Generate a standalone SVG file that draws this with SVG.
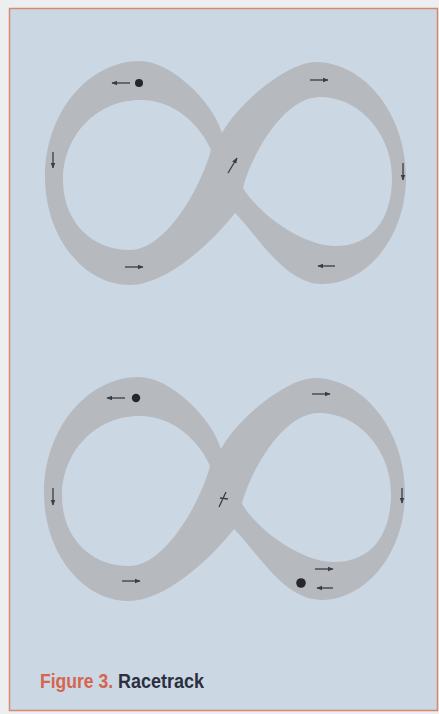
<svg xmlns="http://www.w3.org/2000/svg" width="439" height="714" viewBox="0 0 439 714">
  <style>
    .track { fill: #b6babf; fill-rule: evenodd; }
    .arr { stroke: #3a3d44; stroke-width: 1.3; fill: none; marker-end: url(#ah); }
    .tick { stroke: #3a3d44; stroke-width: 1.3; fill: none; }
    .dot { fill: #25272c; }
    .cap { font-family: "Liberation Sans Narrow", "Liberation Sans", Arial, sans-serif; font-weight: bold; font-size: 20px; }
  </style>
  <defs>
    <marker id="ah" viewBox="0 0 10 10" refX="9" refY="5" markerWidth="6" markerHeight="6" markerUnits="userSpaceOnUse" orient="auto">
      <path d="M0,1 L10,5 L0,9 z" fill="#3a3d44"/>
    </marker>
    <path id="eight" class="track" d="M222,133 C212,100 170,61 140,61 C88,61 45,113 45,177 C45,236 83,285 130,285 C165,285 210,245 235,213 C258,236 285,284 322,284 C368,284 406,236 406,177 C406,115 365,62 315,62 C290,62 240,100 222,133 Z M211,150 C200,125 175,100 140,100 C97,100 63,135 63,180 C63,222 92,250 130,250 C165,250 200,190 211,150 Z M243,188 C248,165 280,97 320,97 C360,97 392,135 392,177 C392,222 370,246 335,246 C305,246 262,218 243,188 Z"/>
  </defs>
  <rect x="0" y="0" width="439" height="714" fill="#eceef0"/>
  <rect id="panel" x="9.5" y="8.5" width="428" height="702" fill="#ccd7e4" stroke="#d58a6c" stroke-width="1.5"/>

  <g id="track-top">
    <use href="#eight"/>
  </g>
  <g id="track-bottom">
    <use href="#eight" transform="translate(-1,316)"/>
  </g>

  <g id="connectors">
    <!-- top figure -->
    <path class="arr" d="M130,83 L112,83"/>
    <path class="arr" d="M310,80 L328,80"/>
    <path class="arr" d="M53,152 L53,168"/>
    <path class="arr" d="M403,163 L403,180"/>
    <path class="arr" d="M125,267 L143,267"/>
    <path class="arr" d="M335,266 L318,266"/>
    <path class="arr" d="M228,173 L237,158"/>
    <!-- bottom figure -->
    <path class="arr" d="M125,398 L107,398"/>
    <path class="arr" d="M312,394 L330,394"/>
    <path class="arr" d="M53,488 L53,505"/>
    <path class="arr" d="M402,488 L402,503"/>
    <path class="arr" d="M122,581 L140,581"/>
    <path class="arr" d="M315,569 L333,569"/>
    <path class="arr" d="M333,588 L317,588"/>
    <path class="tick" d="M219,507 L226,492 M220,498 L228,499"/>
  </g>

  <g id="cars">
    <circle class="dot" cx="139" cy="83" r="4"/>
    <circle class="dot" cx="136" cy="398" r="4.2"/>
    <circle class="dot" cx="301" cy="583" r="4.8"/>
  </g>

  <g id="caption">
    <text class="cap" x="40" y="688" fill="#d4654f" textLength="73" lengthAdjust="spacingAndGlyphs">Figure 3.</text>
    <text class="cap" x="118" y="688" fill="#2b2f40" textLength="86" lengthAdjust="spacingAndGlyphs">Racetrack</text>
  </g>
</svg>
